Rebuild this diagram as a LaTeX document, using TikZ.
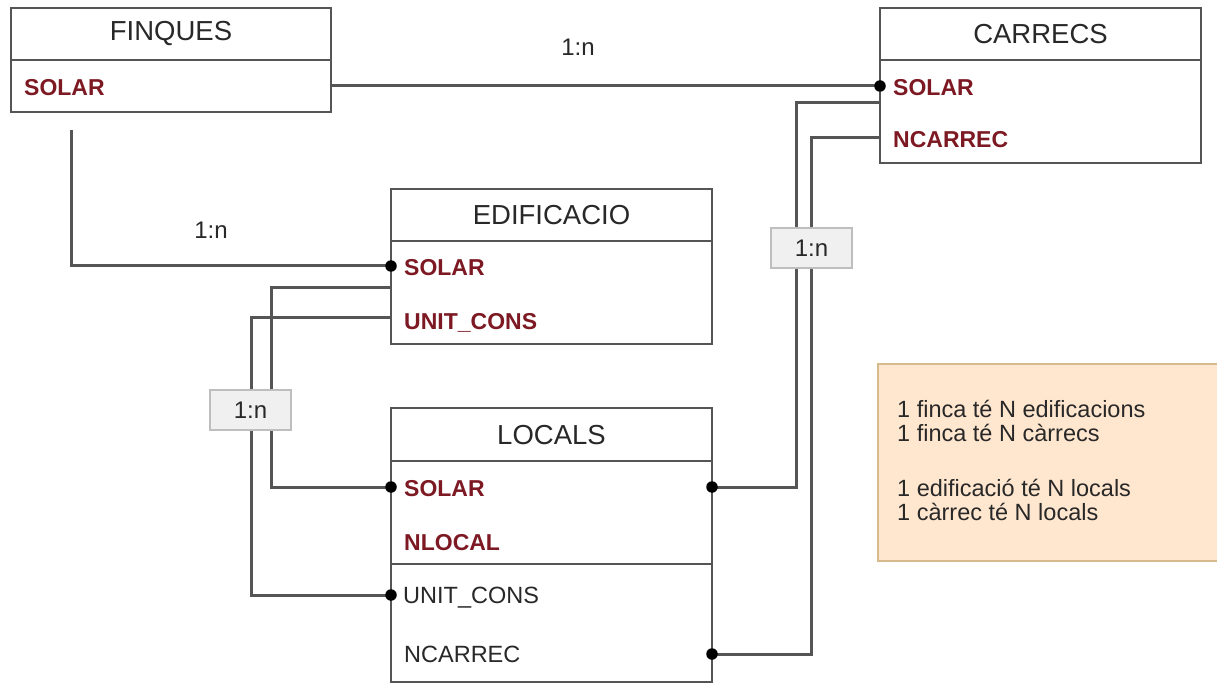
\documentclass[tikz,border=0pt]{standalone}
\usepackage{fontspec}
\setmainfont{Liberation Sans}
\usetikzlibrary{calc}
\definecolor{lncol}{RGB}{85,85,85}
\definecolor{keycol}{RGB}{125,25,35}
\definecolor{txtcol}{RGB}{40,40,40}
\definecolor{notefill}{RGB}{255,230,206}
\definecolor{notedraw}{RGB}{214,186,140}
\definecolor{lblfill}{RGB}{240,240,240}
\definecolor{lbldraw}{RGB}{190,190,190}
\tikzset{
  entbox/.style={draw=lncol, line width=2.8pt, fill=white, inner sep=0pt, outer sep=0pt, rectangle},
  divider/.style={draw=lncol, line width=2.8pt},
  ttl/.style={font=\fontsize{27.5}{32}\selectfont, text=txtcol, inner sep=0pt},
  keyattr/.style={font=\bfseries\fontsize{23}{27}\selectfont, text=keycol, anchor=base west, inner sep=0pt},
  attr/.style={font=\fontsize{23.5}{27}\selectfont, text=txtcol, anchor=base west, inner sep=0pt},
  conn/.style={draw=lncol, line width=3pt},
  dot/.style={circle, fill=black, inner sep=0pt, minimum size=11.5pt},
  lbl/.style={font=\fontsize{24}{28}\selectfont, text=txtcol, inner sep=0pt},
  lblbox/.style={lbl, draw=lbldraw, fill=lblfill, line width=1.8pt, minimum width=81pt, minimum height=40pt},
  notebox/.style={draw=notedraw, fill=notefill, line width=2.5pt, inner sep=0pt},
  notetxt/.style={font=\fontsize{23.5}{24}\selectfont, text=txtcol, anchor=base west, inner sep=0pt},
}
\begin{document}
\begin{tikzpicture}[x=1pt,y=-1pt]
\fill[white] (0,0) rectangle (1217,684);
\useasboundingbox (0,0) rectangle (1217,684);

% entity boxes
\node[entbox, minimum width=320pt, minimum height=104pt] (finques) at (171,60) {};
\node[entbox, minimum width=321pt, minimum height=155pt] (carrecs) at (1040.5,85.5) {};
\node[entbox, minimum width=321pt, minimum height=155pt] (edif) at (551.5,266.5) {};
\node[entbox, minimum width=321pt, minimum height=274pt] (locals) at (551.5,545) {};

% dividers
\draw[divider] ($(finques.north west)+(0,52)$) -- ($(finques.north east)+(0,52)$);
\draw[divider] ($(carrecs.north west)+(0,52)$) -- ($(carrecs.north east)+(0,52)$);
\draw[divider] ($(edif.north west)+(0,52)$) -- ($(edif.north east)+(0,52)$);
\draw[divider] ($(locals.north west)+(0,53)$) -- ($(locals.north east)+(0,53)$);
\draw[divider] ($(locals.north west)+(0,156)$) -- ($(locals.north east)+(0,156)$);

% titles
\node[ttl] (tfin) at (171,34) {FINQUES};
\node[ttl] (tcar) at (1040.5,34) {CARRECS};
\node[ttl] (tedi) at (551.5,215) {EDIFICACIO};
\node[ttl] (tloc) at (551.5,435) {LOCALS};

% attributes
\node[keyattr] (finsol) at (24,96) {SOLAR};
\node[keyattr] (carsol) at (893,96) {SOLAR};
\node[keyattr] (carnc) at (893,148) {NCARREC};
\node[keyattr] (edisol) at (404,276) {SOLAR};
\node[keyattr] (ediuc) at (404,329) {UNIT\_CONS};
\node[keyattr] (locsol) at (404,496) {SOLAR};
\node[keyattr] (locnl) at (404,550) {NLOCAL};
\node[attr] (locuc) at (403,603) {UNIT\_CONS};
\node[attr] (locnc) at (404,662) {NCARREC};

% ports
\coordinate (finR) at (finques.east |- 0,86);
\coordinate (carSol) at (carrecs.west |- 0,86);
\coordinate (finB) at (71,130);
\coordinate (edSol) at (edif.west |- 0,266);
\coordinate (edA) at (edif.west |- 0,288);
\coordinate (edB) at (edif.west |- 0,318);
\coordinate (loSol) at (locals.west |- 0,487);
\coordinate (loUC) at (locals.west |- 0,595);
\coordinate (carA) at (carrecs.west |- 0,103);
\coordinate (carB) at (carrecs.west |- 0,138);
\coordinate (loSolR) at (locals.east |- 0,487);
\coordinate (loNCR) at (locals.east |- 0,654);

\draw[conn] (finR) -- (carSol);
\draw[conn] (finB) |- (edSol);
\draw[conn] (edA) -- ++(-120,0) |- (loSol);
\draw[conn] (edB) -- ++(-140,0) |- (loUC);
\draw[conn] (carA) -- ++(-84,0) |- (loSolR);
\draw[conn] (carB) -- ++(-69,0) |- (loNCR);

% dots
\node[dot] (d1) at (carSol) {};
\node[dot] (d2) at (edSol) {};
\node[dot] (d3) at (loSol) {};
\node[dot] (d4) at (loUC) {};
\node[dot] (d5) at (loSolR) {};
\node[dot] (d6) at (loNCR) {};

% cardinality labels
\node[lbl] (l1) at (578,47) {1:n};
\node[lbl] (l2) at (211,230) {1:n};
\node[lblbox] (l3) at (250.5,410) {1:n};
\node[lblbox] (l4) at (811.5,248) {1:n};

% note
\node[notebox, minimum width=344pt, minimum height=197pt] (note) at (1050,462.5) {};
\node[notetxt] (n1) at (897,417) {1 finca té N edificacions};
\node[notetxt] (n2) at (897,441) {1 finca té N càrrecs};
\node[notetxt] (n3) at (897,496) {1 edificació té N locals};
\node[notetxt] (n4) at (897,520) {1 càrrec té N locals};
\end{tikzpicture}
\end{document}
